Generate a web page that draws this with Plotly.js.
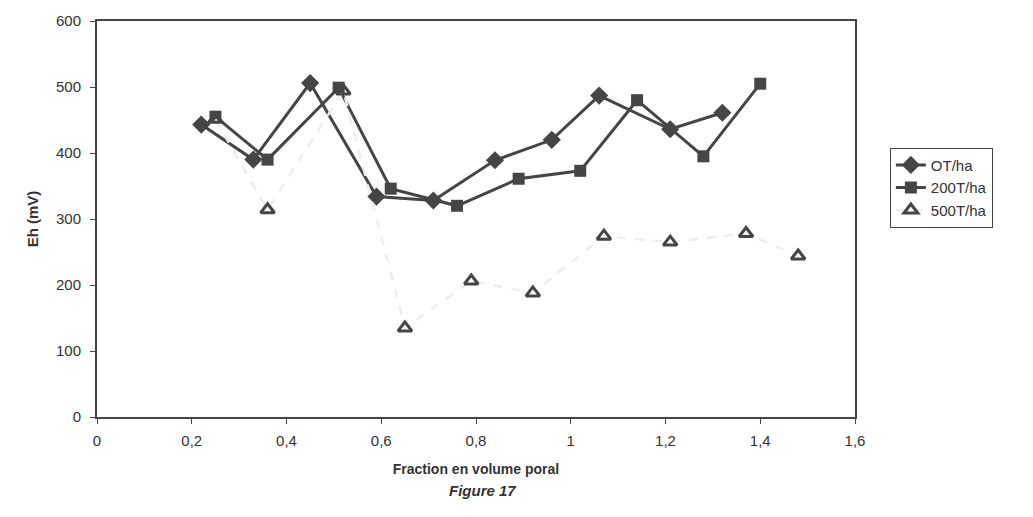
<!DOCTYPE html>
<html>
<head>
<meta charset="utf-8">
<script src="https://cdn.plot.ly/plotly-3.0.1.min.js"></script>
<style>html,body{margin:0;padding:0;background:#fff;}#chart{width:1033px;height:517px;}</style>
</head>
<body>
<div id="chart"></div>
<script>
// Data (Eh in mV vs pore-volume fraction)
const x0T = [0.22, 0.33, 0.45, 0.59, 0.71, 0.84, 0.96, 1.06, 1.21, 1.32];
const y0T = [443, 390, 506, 334, 328, 389, 420, 487, 436, 461];

const x200T = [0.25, 0.36, 0.51, 0.62, 0.76, 0.89, 1.02, 1.14, 1.28, 1.40];
const y200T = [455, 390, 499, 346, 320, 361, 373, 480, 395, 505];

const x500T = [0.25, 0.36, 0.52, 0.65, 0.79, 0.92, 1.07, 1.21, 1.37, 1.48];
const y500T = [451, 314, 494, 135, 206, 188, 274, 265, 278, 244];

const seriesNames = ['OT/ha', '200T/ha', '500T/ha'];
const xTicks = [0, 0.2, 0.4, 0.6, 0.8, 1, 1.2, 1.4, 1.6];
const xTickText = ['0', '0,2', '0,4', '0,6', '0,8', '1', '1,2', '1,4', '1,6'];
const yTicks = [0, 100, 200, 300, 400, 500, 600];

const dark = '#454545';
const fontFam = 'Liberation Sans, Arial, sans-serif';

const traces = [
  {x: x0T, y: y0T, name: seriesNames[0], type: 'scatter', mode: 'lines+markers',
   line: {color: dark, width: 3}, marker: {symbol: 'diamond', size: 14, color: dark}},
  {x: x200T, y: y200T, name: seriesNames[1], type: 'scatter', mode: 'lines+markers',
   line: {color: dark, width: 3}, marker: {symbol: 'square', size: 12, color: dark}},
  {x: x500T, y: y500T, name: seriesNames[2], type: 'scatter', mode: 'lines+markers',
   line: {color: '#eeeeee', width: 2.5, dash: 'dash'},
   marker: {symbol: 'triangle-up-open', size: 12, color: dark, line: {color: dark, width: 3}}}
];

const layout = {
  width: 1033, height: 517,
  margin: {l: 97, r: 178, t: 21, b: 100},
  paper_bgcolor: '#fff', plot_bgcolor: '#fff',
  font: {family: fontFam, size: 15, color: '#333'},
  showlegend: true,
  legend: {x: 1.046, y: 0.68, xanchor: 'left', yanchor: 'top',
           bordercolor: '#444', borderwidth: 1, bgcolor: '#fff',
           font: {family: fontFam, size: 15, color: '#333'}, tracegroupgap: 4},
  xaxis: {range: [0, 1.6], tickvals: xTicks, ticktext: xTickText,
          showgrid: false, zeroline: false, showline: true, mirror: true,
          linecolor: dark, linewidth: 2, ticks: 'outside', ticklen: 5, tickcolor: dark,
          ticklabelstandoff: 4,
          tickfont: {size: 15, color: '#333'},
          title: {text: '<b>Fraction en volume poral</b>', font: {size: 14, color: '#333'}, standoff: 16}},
  yaxis: {range: [0, 600], tickvals: yTicks,
          showgrid: false, zeroline: false, showline: true, mirror: true,
          linecolor: dark, linewidth: 2, ticks: 'outside', ticklen: 5, tickcolor: dark,
          ticklabelstandoff: 6,
          tickfont: {size: 15, color: '#333'},
          title: {text: '<b>Eh (mV)</b>', font: {size: 15, color: '#333'}, standoff: 14}},
  annotations: [
    {text: '<b><i>Figure 17</i></b>', xref: 'paper', yref: 'paper', x: 0.509, y: -0.185,
     xanchor: 'center', yanchor: 'middle', showarrow: false,
     font: {family: fontFam, size: 15, color: '#333'}}
  ]
};

Plotly.newPlot('chart', traces, layout, {displayModeBar: false, staticPlot: true});
</script>
</body>
</html>
